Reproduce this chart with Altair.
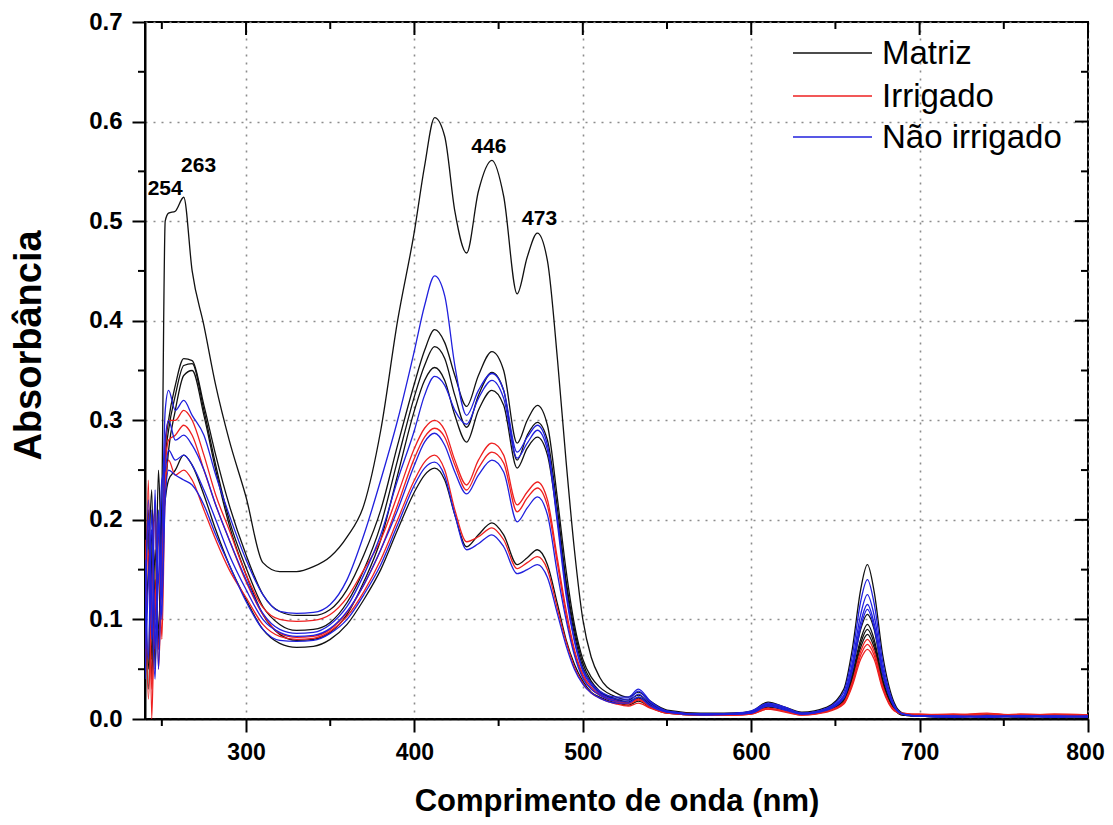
import altair as alt
import pandas as pd

# ---------------- data ----------------
wavelengths = [240, 242, 244, 246, 248, 250, 252, 254,
               258, 263, 268, 275, 282, 290, 300,
               310, 320, 330, 340, 350, 360, 370, 380, 390, 400,
               406, 412, 418, 424, 431, 438, 446, 453, 461, 467, 473, 479,
               485, 490, 495, 500, 505, 510,
               520, 527, 533, 540, 550,
               570, 590, 600, 610, 620, 630,
               645, 655, 660, 665, 669, 673, 678, 685, 690,
               700, 720, 740, 760, 780, 800]

matriz_1 = [0.12, 0.21, 0.06, 0.17, 0.09, 0.22, 0.50, 0.508,
            0.51, 0.524, 0.45, 0.395, 0.335, 0.28, 0.223,
            0.157, 0.148, 0.148, 0.153, 0.163, 0.183, 0.215, 0.29, 0.40, 0.49,
            0.555, 0.604, 0.585, 0.51, 0.468, 0.53, 0.561, 0.525, 0.427, 0.464, 0.488, 0.46,
            0.36, 0.26, 0.17, 0.10, 0.062, 0.042,
            0.026, 0.022, 0.027, 0.018, 0.009,
            0.006, 0.006, 0.008, 0.017, 0.012, 0.007,
            0.012, 0.03, 0.07, 0.13, 0.155, 0.128, 0.065, 0.016, 0.006,
            0.004, 0.003, 0.004, 0.002, 0.004, 0.003]
matriz_2 = [0.08, 0.15, 0.23, 0.05, 0.19, 0.13, 0.27, 0.30,
            0.335, 0.362, 0.36, 0.315, 0.265, 0.215, 0.165,
            0.125, 0.108, 0.104, 0.104, 0.11, 0.13, 0.165, 0.21, 0.275, 0.337,
            0.37, 0.391, 0.378, 0.345, 0.314, 0.345, 0.369, 0.35, 0.277, 0.30, 0.315, 0.295,
            0.22, 0.15, 0.095, 0.06, 0.042, 0.032,
            0.022, 0.019, 0.024, 0.016, 0.008,
            0.005, 0.006, 0.007, 0.015, 0.011, 0.006,
            0.01, 0.022, 0.05, 0.09, 0.105, 0.09, 0.045, 0.012, 0.005,
            0.003, 0.004, 0.002, 0.003, 0.002, 0.003]
matriz_3 = [0.15, 0.05, 0.19, 0.10, 0.25, 0.16, 0.26, 0.29,
            0.325, 0.355, 0.357, 0.31, 0.255, 0.20, 0.152,
            0.113, 0.095, 0.089, 0.09, 0.097, 0.117, 0.15, 0.195, 0.26, 0.324,
            0.355, 0.374, 0.362, 0.325, 0.293, 0.325, 0.348, 0.33, 0.26, 0.285, 0.298, 0.28,
            0.21, 0.14, 0.09, 0.056, 0.038, 0.028,
            0.02, 0.017, 0.022, 0.015, 0.007,
            0.005, 0.005, 0.007, 0.014, 0.01, 0.006,
            0.009, 0.02, 0.045, 0.08, 0.095, 0.08, 0.04, 0.011, 0.005,
            0.003, 0.002, 0.004, 0.003, 0.003, 0.002]
matriz_4 = [0.10, 0.19, 0.04, 0.14, 0.08, 0.20, 0.23, 0.27,
            0.31, 0.345, 0.35, 0.305, 0.25, 0.195, 0.145,
            0.105, 0.085, 0.079, 0.08, 0.087, 0.105, 0.138, 0.18, 0.245, 0.31,
            0.34, 0.353, 0.34, 0.305, 0.278, 0.31, 0.33, 0.315, 0.252, 0.272, 0.283, 0.265,
            0.2, 0.135, 0.085, 0.052, 0.036, 0.027,
            0.019, 0.016, 0.021, 0.014, 0.007,
            0.004, 0.005, 0.006, 0.013, 0.01, 0.005,
            0.009, 0.019, 0.042, 0.076, 0.09, 0.076, 0.038, 0.01, 0.004,
            0.003, 0.003, 0.002, 0.004, 0.002, 0.003]
matriz_5 = [0.13, 0.03, 0.16, 0.21, 0.07, 0.18, 0.22, 0.24,
            0.25, 0.265, 0.255, 0.225, 0.19, 0.155, 0.12,
            0.09, 0.076, 0.072, 0.073, 0.08, 0.095, 0.12, 0.15, 0.19, 0.228,
            0.245, 0.252, 0.24, 0.205, 0.173, 0.185, 0.197, 0.185, 0.155, 0.162, 0.17, 0.155,
            0.115, 0.08, 0.055, 0.038, 0.027, 0.022,
            0.016, 0.014, 0.018, 0.012, 0.006,
            0.004, 0.005, 0.006, 0.012, 0.009, 0.005,
            0.008, 0.018, 0.04, 0.072, 0.085, 0.072, 0.036, 0.01, 0.004,
            0.003, 0.002, 0.003, 0.002, 0.003, 0.002]

irrigado_1 = [0.05, 0.24, 0.0, 0.13, 0.07, 0.16, 0.27, 0.30,
              0.30, 0.31, 0.30, 0.265, 0.225, 0.19, 0.145,
              0.112, 0.1, 0.098, 0.099, 0.105, 0.122, 0.15, 0.18, 0.225, 0.272,
              0.292, 0.300, 0.29, 0.26, 0.235, 0.26, 0.277, 0.265, 0.215, 0.228, 0.238, 0.22,
              0.16, 0.11, 0.07, 0.045, 0.032, 0.025,
              0.018, 0.016, 0.02, 0.013, 0.007,
              0.005, 0.004, 0.006, 0.011, 0.008, 0.005,
              0.008, 0.017, 0.037, 0.068, 0.08, 0.068, 0.034, 0.009, 0.006,
              0.005, 0.004, 0.006, 0.003, 0.005, 0.004]
irrigado_2 = [0.18, 0.02, 0.12, 0.22, 0.05, 0.15, 0.25, 0.28,
              0.285, 0.295, 0.285, 0.25, 0.215, 0.18, 0.138,
              0.105, 0.086, 0.082, 0.083, 0.09, 0.107, 0.135, 0.17, 0.215, 0.262,
              0.283, 0.292, 0.283, 0.255, 0.23, 0.252, 0.268, 0.257, 0.208, 0.222, 0.232, 0.214,
              0.155, 0.105, 0.067, 0.043, 0.03, 0.024,
              0.017, 0.015, 0.019, 0.012, 0.006,
              0.004, 0.004, 0.005, 0.01, 0.008, 0.004,
              0.008, 0.016, 0.035, 0.064, 0.075, 0.064, 0.032, 0.009, 0.005,
              0.004, 0.005, 0.003, 0.005, 0.004, 0.003]
irrigado_3 = [0.09, 0.17, 0.03, 0.11, 0.19, 0.08, 0.23, 0.26,
              0.245, 0.25, 0.24, 0.21, 0.18, 0.15, 0.122,
              0.095, 0.083, 0.08, 0.081, 0.088, 0.103, 0.128, 0.16, 0.2, 0.24,
              0.258, 0.265, 0.25, 0.21, 0.178, 0.183, 0.192, 0.18, 0.151, 0.157, 0.163, 0.15,
              0.11, 0.078, 0.052, 0.036, 0.026, 0.021,
              0.015, 0.013, 0.016, 0.011, 0.006,
              0.004, 0.004, 0.005, 0.01, 0.007, 0.004,
              0.007, 0.015, 0.033, 0.06, 0.07, 0.06, 0.03, 0.008, 0.005,
              0.004, 0.003, 0.005, 0.004, 0.003, 0.004]

nao_irrigado_1 = [0.11, 0.20, 0.08, 0.23, 0.05, 0.18, 0.31, 0.33,
                  0.31, 0.32, 0.305, 0.285, 0.245, 0.205, 0.16,
                  0.125, 0.108, 0.106, 0.107, 0.115, 0.14, 0.185, 0.24, 0.30, 0.37,
                  0.415, 0.445, 0.425, 0.355, 0.305, 0.33, 0.347, 0.33, 0.268, 0.283, 0.295, 0.275,
                  0.2, 0.13, 0.08, 0.05, 0.036, 0.028,
                  0.022, 0.022, 0.03, 0.018, 0.008,
                  0.005, 0.006, 0.008, 0.016, 0.012, 0.006,
                  0.011, 0.027, 0.063, 0.118, 0.14, 0.116, 0.058, 0.014, 0.005,
                  0.003, 0.003, 0.002, 0.003, 0.003, 0.002]
nao_irrigado_2 = [0.07, 0.22, 0.12, 0.04, 0.20, 0.10, 0.28, 0.30,
                  0.28, 0.285, 0.275, 0.25, 0.215, 0.18, 0.14,
                  0.106, 0.09, 0.086, 0.087, 0.095, 0.113, 0.145, 0.185, 0.24, 0.29,
                  0.325, 0.344, 0.335, 0.31, 0.296, 0.322, 0.340, 0.322, 0.262, 0.277, 0.29, 0.27,
                  0.195, 0.125, 0.078, 0.048, 0.034, 0.026,
                  0.02, 0.02, 0.028, 0.017, 0.008,
                  0.005, 0.005, 0.007, 0.015, 0.011, 0.006,
                  0.01, 0.024, 0.056, 0.105, 0.125, 0.104, 0.052, 0.013, 0.005,
                  0.003, 0.002, 0.003, 0.003, 0.002, 0.003]
nao_irrigado_3 = [0.16, 0.06, 0.21, 0.09, 0.14, 0.24, 0.25, 0.27,
                  0.26, 0.265, 0.255, 0.23, 0.2, 0.165, 0.13,
                  0.1, 0.087, 0.083, 0.084, 0.091, 0.108, 0.135, 0.17, 0.21, 0.255,
                  0.278, 0.287, 0.275, 0.248, 0.226, 0.245, 0.26, 0.248, 0.198, 0.212, 0.223, 0.205,
                  0.145, 0.1, 0.064, 0.041, 0.03, 0.024,
                  0.018, 0.018, 0.025, 0.015, 0.007,
                  0.005, 0.005, 0.006, 0.014, 0.01, 0.005,
                  0.01, 0.022, 0.052, 0.097, 0.115, 0.096, 0.048, 0.012, 0.005,
                  0.003, 0.003, 0.002, 0.003, 0.002, 0.003]
nao_irrigado_4 = [0.04, 0.14, 0.19, 0.07, 0.21, 0.12, 0.22, 0.25,
                  0.245, 0.24, 0.235, 0.215, 0.185, 0.155, 0.118,
                  0.09, 0.079, 0.078, 0.079, 0.086, 0.1, 0.125, 0.155, 0.195, 0.235,
                  0.252, 0.258, 0.244, 0.205, 0.17, 0.176, 0.185, 0.173, 0.146, 0.15, 0.155, 0.142,
                  0.105, 0.074, 0.05, 0.035, 0.026, 0.021,
                  0.016, 0.016, 0.022, 0.013, 0.007,
                  0.004, 0.005, 0.006, 0.013, 0.009, 0.005,
                  0.009, 0.021, 0.048, 0.092, 0.11, 0.092, 0.046, 0.012, 0.005,
                  0.003, 0.002, 0.003, 0.002, 0.003, 0.002]

groups = ["Matriz", "Irrigado", "Não irrigado"]
group_colors = ["#111111", "#ee2020", "#2020dd"]

series_list = [
    ("Matriz", "m1", matriz_1), ("Matriz", "m2", matriz_2), ("Matriz", "m3", matriz_3),
    ("Matriz", "m4", matriz_4), ("Matriz", "m5", matriz_5),
    ("Irrigado", "i1", irrigado_1), ("Irrigado", "i2", irrigado_2), ("Irrigado", "i3", irrigado_3),
    ("Não irrigado", "n1", nao_irrigado_1), ("Não irrigado", "n2", nao_irrigado_2),
    ("Não irrigado", "n3", nao_irrigado_3), ("Não irrigado", "n4", nao_irrigado_4),
]

peak_labels = ["254", "263", "446", "473"]
peak_x = [252, 271.8, 444.2, 474.3]
peak_y = [0.526, 0.549, 0.568, 0.496]

x_major = [300, 400, 500, 600, 700, 800]
x_minor = [250, 350, 450, 550, 650, 750]
y_major = [0.0, 0.1, 0.2, 0.3, 0.4, 0.5, 0.6, 0.7]
y_minor = [0.05, 0.15, 0.25, 0.35, 0.45, 0.55, 0.65]

# ---------------- build tables ----------------
rows = []
for grp, sid, vals in series_list:
    assert len(vals) == len(wavelengths)
    for w, v in zip(wavelengths, vals):
        rows.append({"wl": w, "absorb": v, "group": grp, "series": sid})
df = pd.DataFrame(rows)

W, H = 943, 697
FONT = "Liberation Sans"

xscale = alt.Scale(domain=[240, 800], nice=False, zero=False)
yscale = alt.Scale(domain=[0, 0.7], nice=False, zero=False)

xaxis = alt.Axis(values=x_major, title="Comprimento de onda (nm)", grid=True,
                 titleX=W / 2, titleY=91,
                 labelOffset={"condition": {"test": "datum.value == 800", "value": -3}, "value": 0})
yaxis = alt.Axis(values=y_major, format=".1f", title="Absorbância", grid=True,
                 titleX=-105, titleY=323, titleAngle=270)

lines = alt.Chart(df).mark_line(strokeWidth=1.3, interpolate="monotone", clip=True).encode(
    x=alt.X("wl:Q", scale=xscale, axis=xaxis),
    y=alt.Y("absorb:Q", scale=yscale, axis=yaxis),
    color=alt.Color("group:N", scale=alt.Scale(domain=groups, range=group_colors), legend=None),
    detail="series:N",
)

def vticks(vals, y0, y1):
    d = pd.DataFrame({"v": vals})
    return alt.Chart(d).mark_rule(color="black", strokeWidth=2).encode(
        x=alt.X("v:Q", scale=xscale, axis=xaxis), y=alt.value(y0), y2=alt.value(y1))

def hticks(vals, x0, x1):
    d = pd.DataFrame({"v": vals})
    return alt.Chart(d).mark_rule(color="black", strokeWidth=2).encode(
        y=alt.Y("v:Q", scale=yscale, axis=yaxis), x=alt.value(x0), x2=alt.value(x1))

tick_layers = [
    vticks(x_minor, H, H + 7),           # bottom minor (outward)
    vticks(x_major, 0, 13),              # top major (inward)
    vticks(x_minor, 0, 7),               # top minor (inward)
    hticks(y_minor, -7, 0),              # left minor (outward)
    hticks(y_major, W - 13, W),          # right major (inward)
    hticks(y_minor, W - 7, W),           # right minor (inward)
]

ann_df = pd.DataFrame({"label": peak_labels, "x": peak_x, "y": peak_y})
annotations = alt.Chart(ann_df).mark_text(
    font=FONT, fontWeight="bold", fontSize=21, align="center", baseline="alphabetic", color="black"
).encode(
    x=alt.X("x:Q", scale=xscale, axis=xaxis),
    y=alt.Y("y:Q", scale=yscale, axis=yaxis),
    text="label:N",
)

legend_layers = []
legend_rows_y = [31, 74, 115]
for name, col, ly in zip(groups, group_colors, legend_rows_y):
    ld = pd.DataFrame({"name": [name]})
    legend_layers.append(
        alt.Chart(ld).mark_rule(color=col, strokeWidth=1.3).encode(
            x=alt.value(648), x2=alt.value(727), y=alt.value(ly)))
    legend_layers.append(
        alt.Chart(ld).mark_text(font=FONT, fontSize=33, align="left", baseline="middle",
                                color="black").encode(
            x=alt.value(737), y=alt.value(ly + 1), text="name:N"))

chart = alt.layer(lines, *tick_layers, annotations, *legend_layers).properties(
    width=W, height=H,
    autosize=alt.AutoSizeParams(type="none"),
    padding={"left": 137, "top": 14, "right": 17, "bottom": 98},
).configure_view(
    stroke="black", strokeWidth=2
).configure_axis(
    labelFont=FONT, labelFontWeight="bold", labelFontSize=24, labelColor="black",
    titleFont=FONT, titleFontWeight="bold", titleColor="black",
    tickColor="black", tickWidth=2, tickSize=13,
    domainColor="black", domainWidth=2,
    gridColor="#8c8c8c", gridDash=[2, 6], gridWidth=1.6,
    labelFlush=False, labelOverlap=False, labelBound=False,
).configure_axisX(
    labelPadding=9, labelFontSize=23, titleFontSize=31, titleAlign="center",
    titleBaseline="alphabetic",
).configure_axisY(
    labelPadding=10, titleFontSize=38, titleAlign="center", titleBaseline="alphabetic",
)

chart.save("out.html", embed_options={"renderer": "svg", "actions": False})
